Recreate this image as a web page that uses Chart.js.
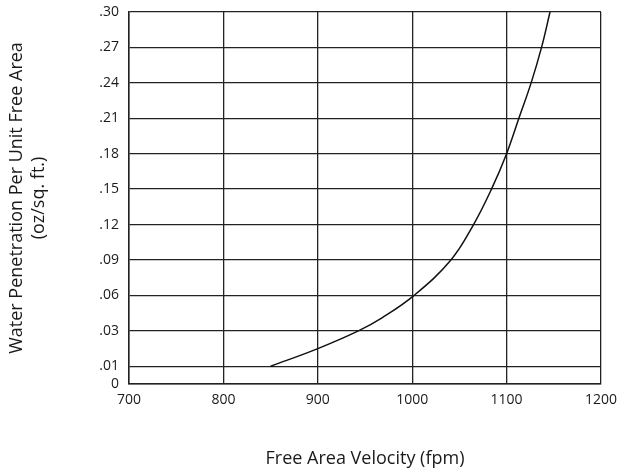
<!DOCTYPE html>
<html lang="en">
<head>
<meta charset="UTF-8" />
<title>Water Penetration vs Free Area Velocity</title>
<style>
  html, body { margin: 0; padding: 0; background: #fff; }
  .graphDiv { width: 618px; height: 474px; }
</style>
</head>
<body>
<div class="graphDiv"><canvas id="myChart"></canvas></div>
<script src="https://cdn.jsdelivr.net/npm/chart.js"></script>
<script>
// curve
const velocity = [850, 900, 943, 968, 1002, 1041, 1065, 1084, 1100, 1113, 1126, 1137, 1146];
const penetration = [0.01, 0.02, 0.03, 0.041, 0.06, 0.09, 0.12, 0.15, 0.18, 0.21, 0.24, 0.27, 0.30];

const yTickValues = [0, 0.01, 0.03, 0.06, 0.09, 0.12, 0.15, 0.18, 0.21, 0.24, 0.27, 0.30];
const yTickLabels = ['0', '.01', '.03', '.06', '.09', '.12', '.15', '.18', '.21', '.24', '.27', '.30'];
const xTickValues = [700, 800, 900, 1000, 1100, 1200];

const ink = '#1a1a1a';
const tickFont = { family: 'Open Sans', size: 14 };
const titleFont = { family: 'Open Sans', size: 18 };

// y axis is uneven: 0 -> .01 is half a step, .01 -> .03 is a full step
const tickPos = i => (i === 0 ? 0 : i - 0.5);
const toUnit = v => {
  for (let i = 0; i < yTickValues.length - 1; i++) {
    if (v <= yTickValues[i + 1]) {
      const f = (v - yTickValues[i]) / (yTickValues[i + 1] - yTickValues[i]);
      return tickPos(i) + f * (tickPos(i + 1) - tickPos(i));
    }
  }
  return tickPos(yTickValues.length - 1);
};

class PiecewiseScale extends Chart.LinearScale {
  getPixelForValue(value) {
    return this.getPixelForDecimal(toUnit(value) / toUnit(this.max));
  }
}
PiecewiseScale.id = 'piecewise';
PiecewiseScale.defaults = {};
Chart.register(PiecewiseScale);

const ctx = document.getElementById('myChart').getContext('2d');
new Chart(ctx, {
  type: 'line',
  data: {
    datasets: [{
      data: velocity.map((v, i) => ({ x: v, y: penetration[i] })),
      borderColor: '#111',
      borderWidth: 1.5,
      pointRadius: 0,
      fill: false,
      tension: 0.4
    }]
  },
  options: {
    responsive: true,
    maintainAspectRatio: false,
    animation: false,
    layout: { padding: { top: 12, right: 17, left: 0, bottom: 0 } },
    plugins: { legend: { display: false }, tooltip: { enabled: false } },
    scales: {
      x: {
        type: 'linear',
        min: 700,
        max: 1200,
        afterBuildTicks: s => { s.ticks = xTickValues.map(v => ({ value: v })); },
        afterFit: s => { s.height = 90; s.paddingLeft = 0; s.paddingRight = 0; },
        ticks: { color: ink, font: tickFont, padding: 8, callback: v => String(v) },
        grid: { color: '#222', lineWidth: 1.3, drawTicks: false },
        border: { color: '#222', width: 1.5 },
        title: {
          display: true,
          text: 'Free Area Velocity (fpm)',
          color: ink,
          font: titleFont,
          padding: { top: 0, bottom: 4 }
        }
      },
      y: {
        type: 'piecewise',
        min: 0,
        max: 0.30,
        afterBuildTicks: s => { s.ticks = yTickValues.map(v => ({ value: v })); },
        afterFit: s => { s.width = 129; s.paddingTop = 0; s.paddingBottom = 0; },
        ticks: {
          color: ink,
          font: tickFont,
          padding: 10,
          callback: v => yTickLabels[yTickValues.indexOf(v)]
        },
        grid: { color: '#222', lineWidth: 1.3, drawTicks: false },
        border: { color: '#222', width: 1.5 },
        title: {
          display: true,
          text: ['Water Penetration Per Unit Free Area', '(oz/sq. ft.)'],
          color: ink,
          font: titleFont,
          padding: { top: 6, bottom: 0 }
        }
      }
    }
  }
});
</script>
</body>
</html>
